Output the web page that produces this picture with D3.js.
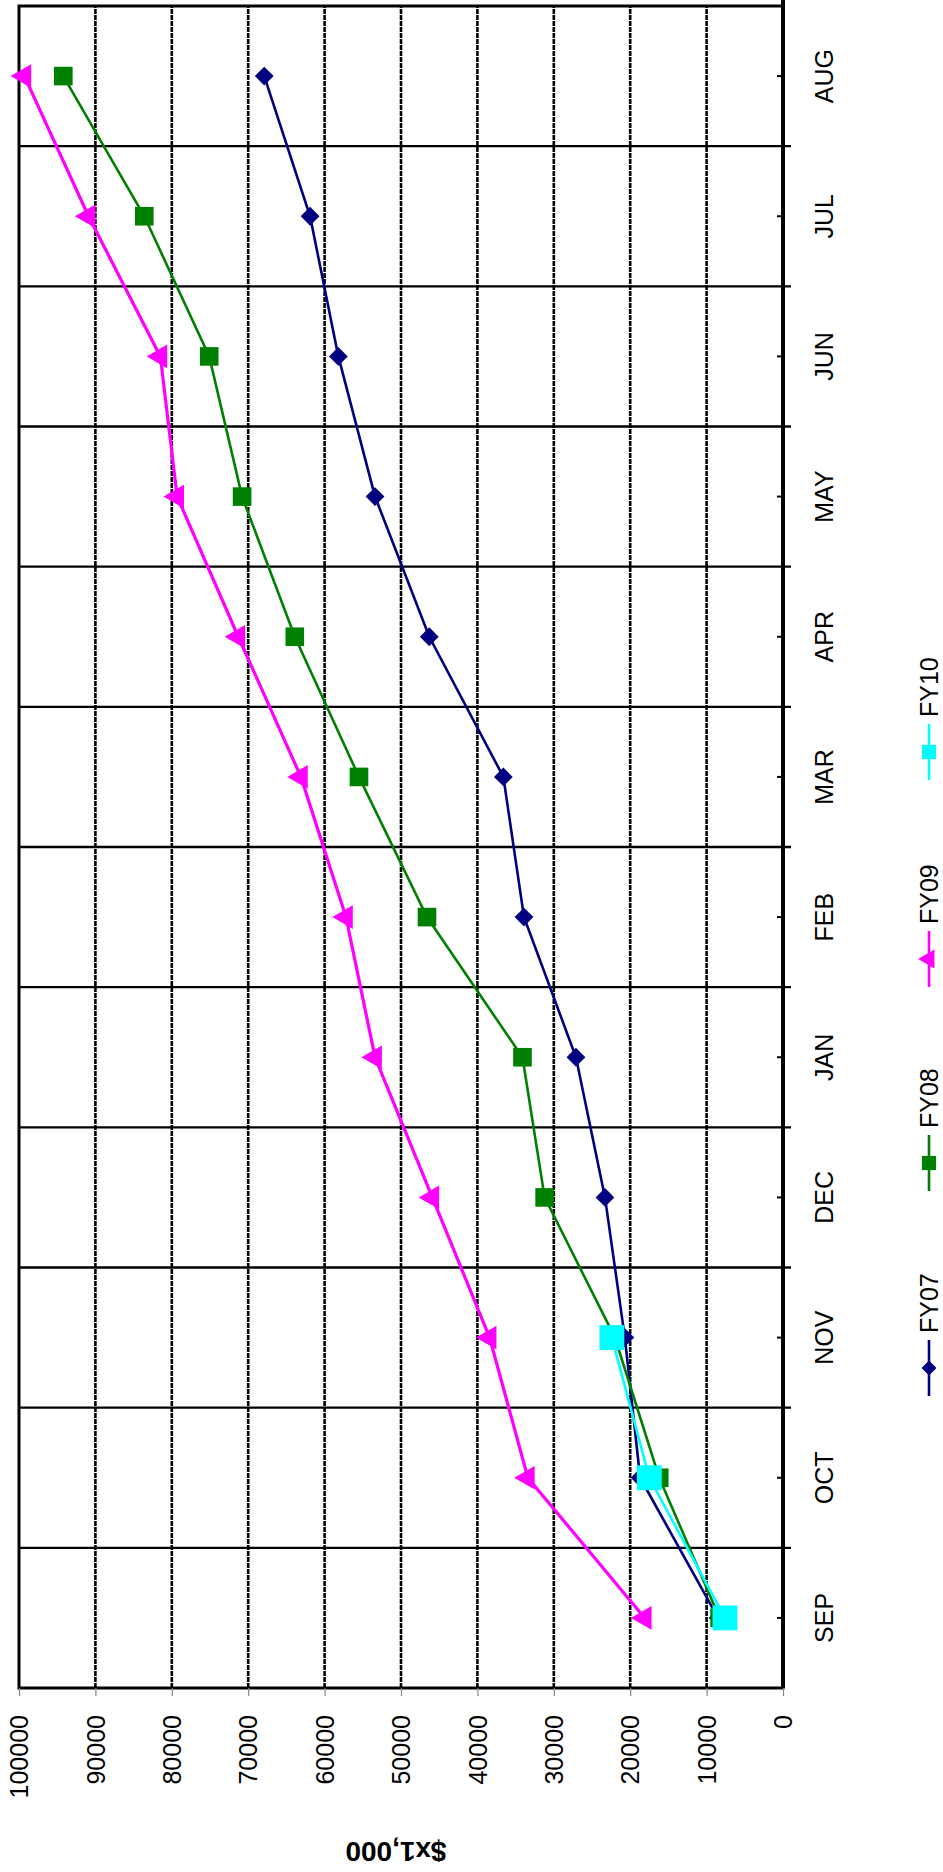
<!DOCTYPE html>
<html>
<head>
<meta charset="utf-8">
<script src="https://cdn.jsdelivr.net/npm/d3@7"></script>
<style>
  body { margin: 0; background: #fff; }
  text { font-family: "Liberation Sans", Arial, sans-serif; fill: #000; }
</style>
</head>
<body>
<div id="graf"></div>
<script>
// data ($ x1,000, cumulative by month)
const months = ["SEP", "OCT", "NOV", "DEC", "JAN", "FEB", "MAR", "APR", "MAY", "JUN", "JUL", "AUG"]
const fy07 = [8500, 18700, 20700, 23300, 27100, 33900, 36600, 46300, 53400, 58200, 61900, 67900]
const fy08 = [8300, 16200, 22000, 31200, 34100, 46600, 55500, 63900, 70800, 75100, 83600, 94200]
const fy09 = [18100, 33400, 38400, 45900, 53400, 57200, 63100, 71300, 79300, 81500, 90900, 99300]
const fy10 = [7600, 17500, 22400]
const seriesNames = ["FY07", "FY08", "FY09", "FY10"]
const valueTicks = [0, 10000, 20000, 30000, 40000, 50000, 60000, 70000, 80000, 90000, 100000]

const colores = { FY07: "#000080", FY08: "#008000", FY09: "#FF00FF", FY10: "#00FFFF" }
const simbolos = { FY07: d3.symbolDiamond2, FY08: d3.symbolSquare2, FY09: d3.symbolTriangle2, FY10: d3.symbolSquare2 }
const tamanos = { FY07: 15, FY08: 21, FY09: 20, FY10: 28 }

const anchoTotal = 943
const altoTotal = 1872

const svg = d3.select("#graf")
  .append("svg")
  .attr("width", anchoTotal)
  .attr("height", altoTotal)

// the whole chart is drawn upright, then turned a quarter to the left
const g = svg.append("g")
  .attr("transform", `translate(0, ${altoTotal}) rotate(-90)`)

const plot = { left: 184, right: 1866, top: 19, bottom: 783 }

const x = d3.scaleBand().domain(months).range([plot.left, plot.right]).padding(0)
const y = d3.scaleLinear().domain([0, 100000]).range([plot.bottom, plot.top])
const cx = (m) => x(m) + x.bandwidth() / 2

// value gridlines (dashed)
g.append("g")
  .selectAll("line")
  .data(valueTicks.filter((d) => d > 0 && d < 100000))
  .join("line")
  .attr("x1", plot.left)
  .attr("x2", plot.right)
  .attr("y1", (d) => y(d))
  .attr("y2", (d) => y(d))
  .attr("stroke", "#000")
  .attr("stroke-width", 2.6)
  .attr("stroke-dasharray", "5 1")

// category boundaries (solid, poking through the axis)
const bordes = months.map((m) => x(m)).slice(1)
g.append("g")
  .selectAll("line")
  .data(bordes)
  .join("line")
  .attr("x1", (d) => d)
  .attr("x2", (d) => d)
  .attr("y1", plot.top)
  .attr("y2", plot.bottom + 8)
  .attr("stroke", "#000")
  .attr("stroke-width", 2.4)

// small inner ticks at category centres
g.append("g")
  .selectAll("line")
  .data(months)
  .join("line")
  .attr("x1", (d) => cx(d))
  .attr("x2", (d) => cx(d))
  .attr("y1", plot.bottom - 6)
  .attr("y2", plot.bottom)
  .attr("stroke", "#000")
  .attr("stroke-width", 2)

// plot frame
g.append("rect")
  .attr("x", plot.left)
  .attr("y", plot.top)
  .attr("width", plot.right - plot.left)
  .attr("height", plot.bottom - plot.top)
  .attr("fill", "none")
  .attr("stroke", "#000")
  .attr("stroke-width", 3)

g.append("line")
  .attr("x1", plot.left)
  .attr("x2", plot.right + 8)
  .attr("y1", plot.bottom)
  .attr("y2", plot.bottom)
  .attr("stroke", "#000")
  .attr("stroke-width", 4)

// value axis
const yAxis = d3.axisLeft(y).tickValues(valueTicks).tickSize(8).tickPadding(19).tickFormat(d3.format("d"))
const ejeY = g.append("g")
  .attr("transform", `translate(${plot.left}, 0)`)
  .call(yAxis)
ejeY.select(".domain").remove()
ejeY.selectAll(".tick line").attr("stroke", "#888").attr("stroke-width", 1.2)
ejeY.selectAll(".tick text")
  .attr("font-size", 25)
  .attr("dy", "0.35em")
  .style("font-family", "'Liberation Sans', Arial, sans-serif")

// category labels
g.append("g")
  .selectAll("text")
  .data(months)
  .join("text")
  .attr("x", (d) => cx(d))
  .attr("y", 833)
  .attr("text-anchor", "middle")
  .attr("font-size", 25)
  .text((d) => d)

// axis title
g.append("text")
  .attr("transform", "translate(30, 396) rotate(-90)")
  .attr("text-anchor", "middle")
  .attr("font-size", 28)
  .attr("font-weight", "bold")
  .text("$x1,000")

// series
const series = [
  { name: "FY07", values: fy07 },
  { name: "FY08", values: fy08 },
  { name: "FY09", values: fy09 },
  { name: "FY10", values: fy10 },
]

const linea = d3.line()
  .x((d) => cx(d.month))
  .y((d) => y(d.value))

series.forEach((s) => {
  const pts = s.values.map((v, i) => ({ month: months[i], value: v }))
  g.append("path")
    .datum(pts)
    .attr("d", linea)
    .attr("fill", "none")
    .attr("stroke", colores[s.name])
    .attr("stroke-width", s.name == "FY09" ? 3.2 : 2.6)

  g.append("g")
    .selectAll("path")
    .data(pts)
    .join("path")
    .attr("transform", (d) => `translate(${cx(d.month)}, ${y(d.value)})`)
    .attr("d", d3.symbol().type(simbolos[s.name]).size(tamanos[s.name] * tamanos[s.name]))
    .attr("fill", colores[s.name])
})

// legend
const leyendaU = [504, 709, 913, 1120]
const leyenda = g.append("g")
seriesNames.forEach((n, i) => {
  const u = leyendaU[i]
  leyenda.append("line")
    .attr("x1", u - 28)
    .attr("x2", u + 28)
    .attr("y1", 929)
    .attr("y2", 929)
    .attr("stroke", colores[n])
    .attr("stroke-width", 2.6)
  leyenda.append("path")
    .attr("transform", `translate(${u}, 929)`)
    .attr("d", d3.symbol().type(simbolos[n]).size(n == "FY07" ? 12 * 12 : 16 * 16))
    .attr("fill", colores[n])
  leyenda.append("text")
    .attr("x", u + 35)
    .attr("y", 938)
    .attr("font-size", 25)
    .text(n)
})
</script>
</body>
</html>
